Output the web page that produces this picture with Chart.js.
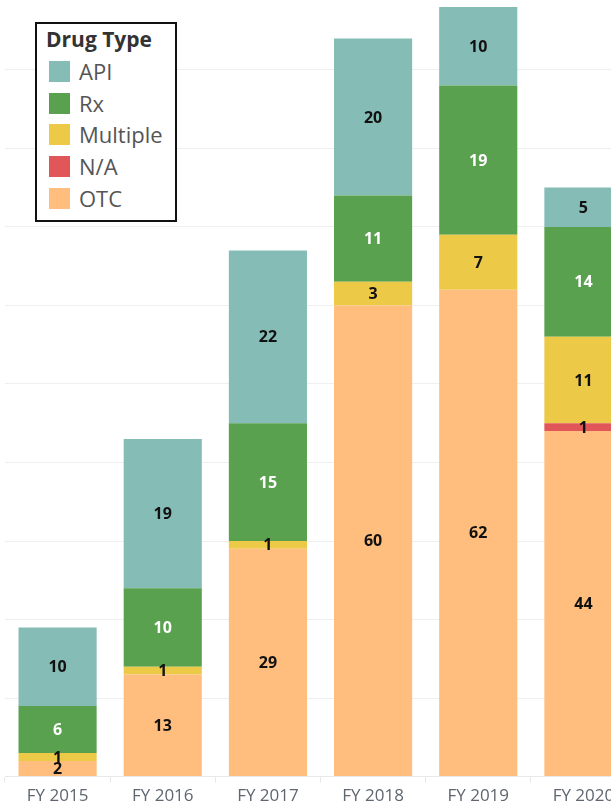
<!DOCTYPE html>
<html>
<head>
<meta charset="utf-8">
<script src="https://cdn.jsdelivr.net/npm/chart.js@4/dist/chart.umd.min.js"></script>
<style>
  html, body { margin: 0; padding: 0; background: #fff; overflow: hidden; }
  body { width: 611px; height: 803px; position: relative; }
  #wrap { position: absolute; left: 0; top: 0; width: 636px; height: 809px; }
  #legend {
    position: absolute; left: 35px; top: 22px; width: 138px; height: 196px;
    border: 2px solid #111; background: #fff; font-family: "Open Sans", sans-serif;
  }
  #legend .title { position: absolute; left: 9px; top: 1px; font-weight: 700; font-size: 21px; color: #333; }
  #legend .item { position: absolute; left: 12px; height: 22px; font-size: 22px; color: #555; line-height: 22px; }
  #legend .sw { position: absolute; left: 0; top: 0; width: 21px; height: 21px; }
  #legend .lab { position: absolute; left: 30px; top: -1px; white-space: nowrap; }
</style>
</head>
<body>
<div id="wrap"><canvas id="c"></canvas></div>
<div id="legend"></div>
<script>
// fiscal years and counts per drug type
const years = ['FY 2015', 'FY 2016', 'FY 2017', 'FY 2018', 'FY 2019', 'FY 2020'];
const otc = [2, 13, 29, 60, 62, 44];
const na = [0, 0, 0, 0, 0, 1];
const multiple = [1, 1, 1, 3, 7, 11];
const rx = [6, 10, 15, 11, 19, 14];
const api = [10, 19, 22, 20, 10, 5];

// stacked bottom to top
const SERIES = [
  { label: 'OTC', data: otc, color: '#FFBE7D', ink: '#111' },
  { label: 'N/A', data: na, color: '#E15759', ink: '#111' },
  { label: 'Multiple', data: multiple, color: '#EDC948', ink: '#111' },
  { label: 'Rx', data: rx, color: '#59A14F', ink: '#fff' },
  { label: 'API', data: api, color: '#86BCB6', ink: '#111' },
];

const font = '"Open Sans", sans-serif';

/* Segment values written in the middle of each piece, like Tableau marks. */
const segmentLabels = {
  id: 'segmentLabels',
  afterDatasetsDraw(chart) {
    const { ctx } = chart;
    ctx.save();
    ctx.font = `700 16px ${font}`;
    ctx.textAlign = 'center';
    ctx.textBaseline = 'middle';
    chart.data.datasets.forEach((ds, i) => {
      const meta = chart.getDatasetMeta(i);
      meta.data.forEach((bar, j) => {
        const v = ds.data[j];
        if (!v) return;
        ctx.fillStyle = SERIES[i].ink;
        ctx.fillText(String(v), bar.x, (bar.y + bar.base) / 2 + 1);
      });
    });
    ctx.restore();
  },
};

// html legend, top of the stack first
const legend = document.getElementById('legend');
legend.innerHTML = '<div class="title">Drug Type</div>';
[...SERIES].reverse().forEach((s, i) => {
  const item = document.createElement('div');
  item.className = 'item';
  item.style.top = (37 + i * 31.7) + 'px';
  item.innerHTML = `<span class="sw" style="background:${s.color}"></span><span class="lab">${s.label}</span>`;
  legend.appendChild(item);
});

new Chart(document.getElementById('c'), {
  type: 'bar',
  data: {
    labels: years,
    datasets: SERIES.map((s) => ({
      label: s.label,
      data: s.data,
      backgroundColor: s.color,
      borderWidth: 0,
      categoryPercentage: 1,
      barPercentage: 0.743,
    })),
  },
  options: {
    responsive: true,
    maintainAspectRatio: false,
    animation: false,
    layout: { padding: { top: 7, left: 5, right: 0, bottom: 0 } },
    scales: {
      x: {
        stacked: true,
        border: { color: '#e8e8e8' },
        grid: { drawOnChartArea: false, color: '#e8e8e8', tickLength: 6, offset: true },
        ticks: { color: '#5f6670', padding: 3, font: { family: font, size: 17 } },
      },
      y: {
        stacked: true,
        min: 0,
        max: 98,
        border: { display: false },
        grid: {
          drawTicks: false,
          color: (c) => (c.tick && c.tick.value % 10 === 0 && c.tick.value > 0 ? '#efefef' : 'transparent'),
        },
        ticks: { display: false, stepSize: 10 },
      },
    },
    plugins: { legend: { display: false }, tooltip: { enabled: false } },
  },
  plugins: [segmentLabels],
});
</script>
</body>
</html>
